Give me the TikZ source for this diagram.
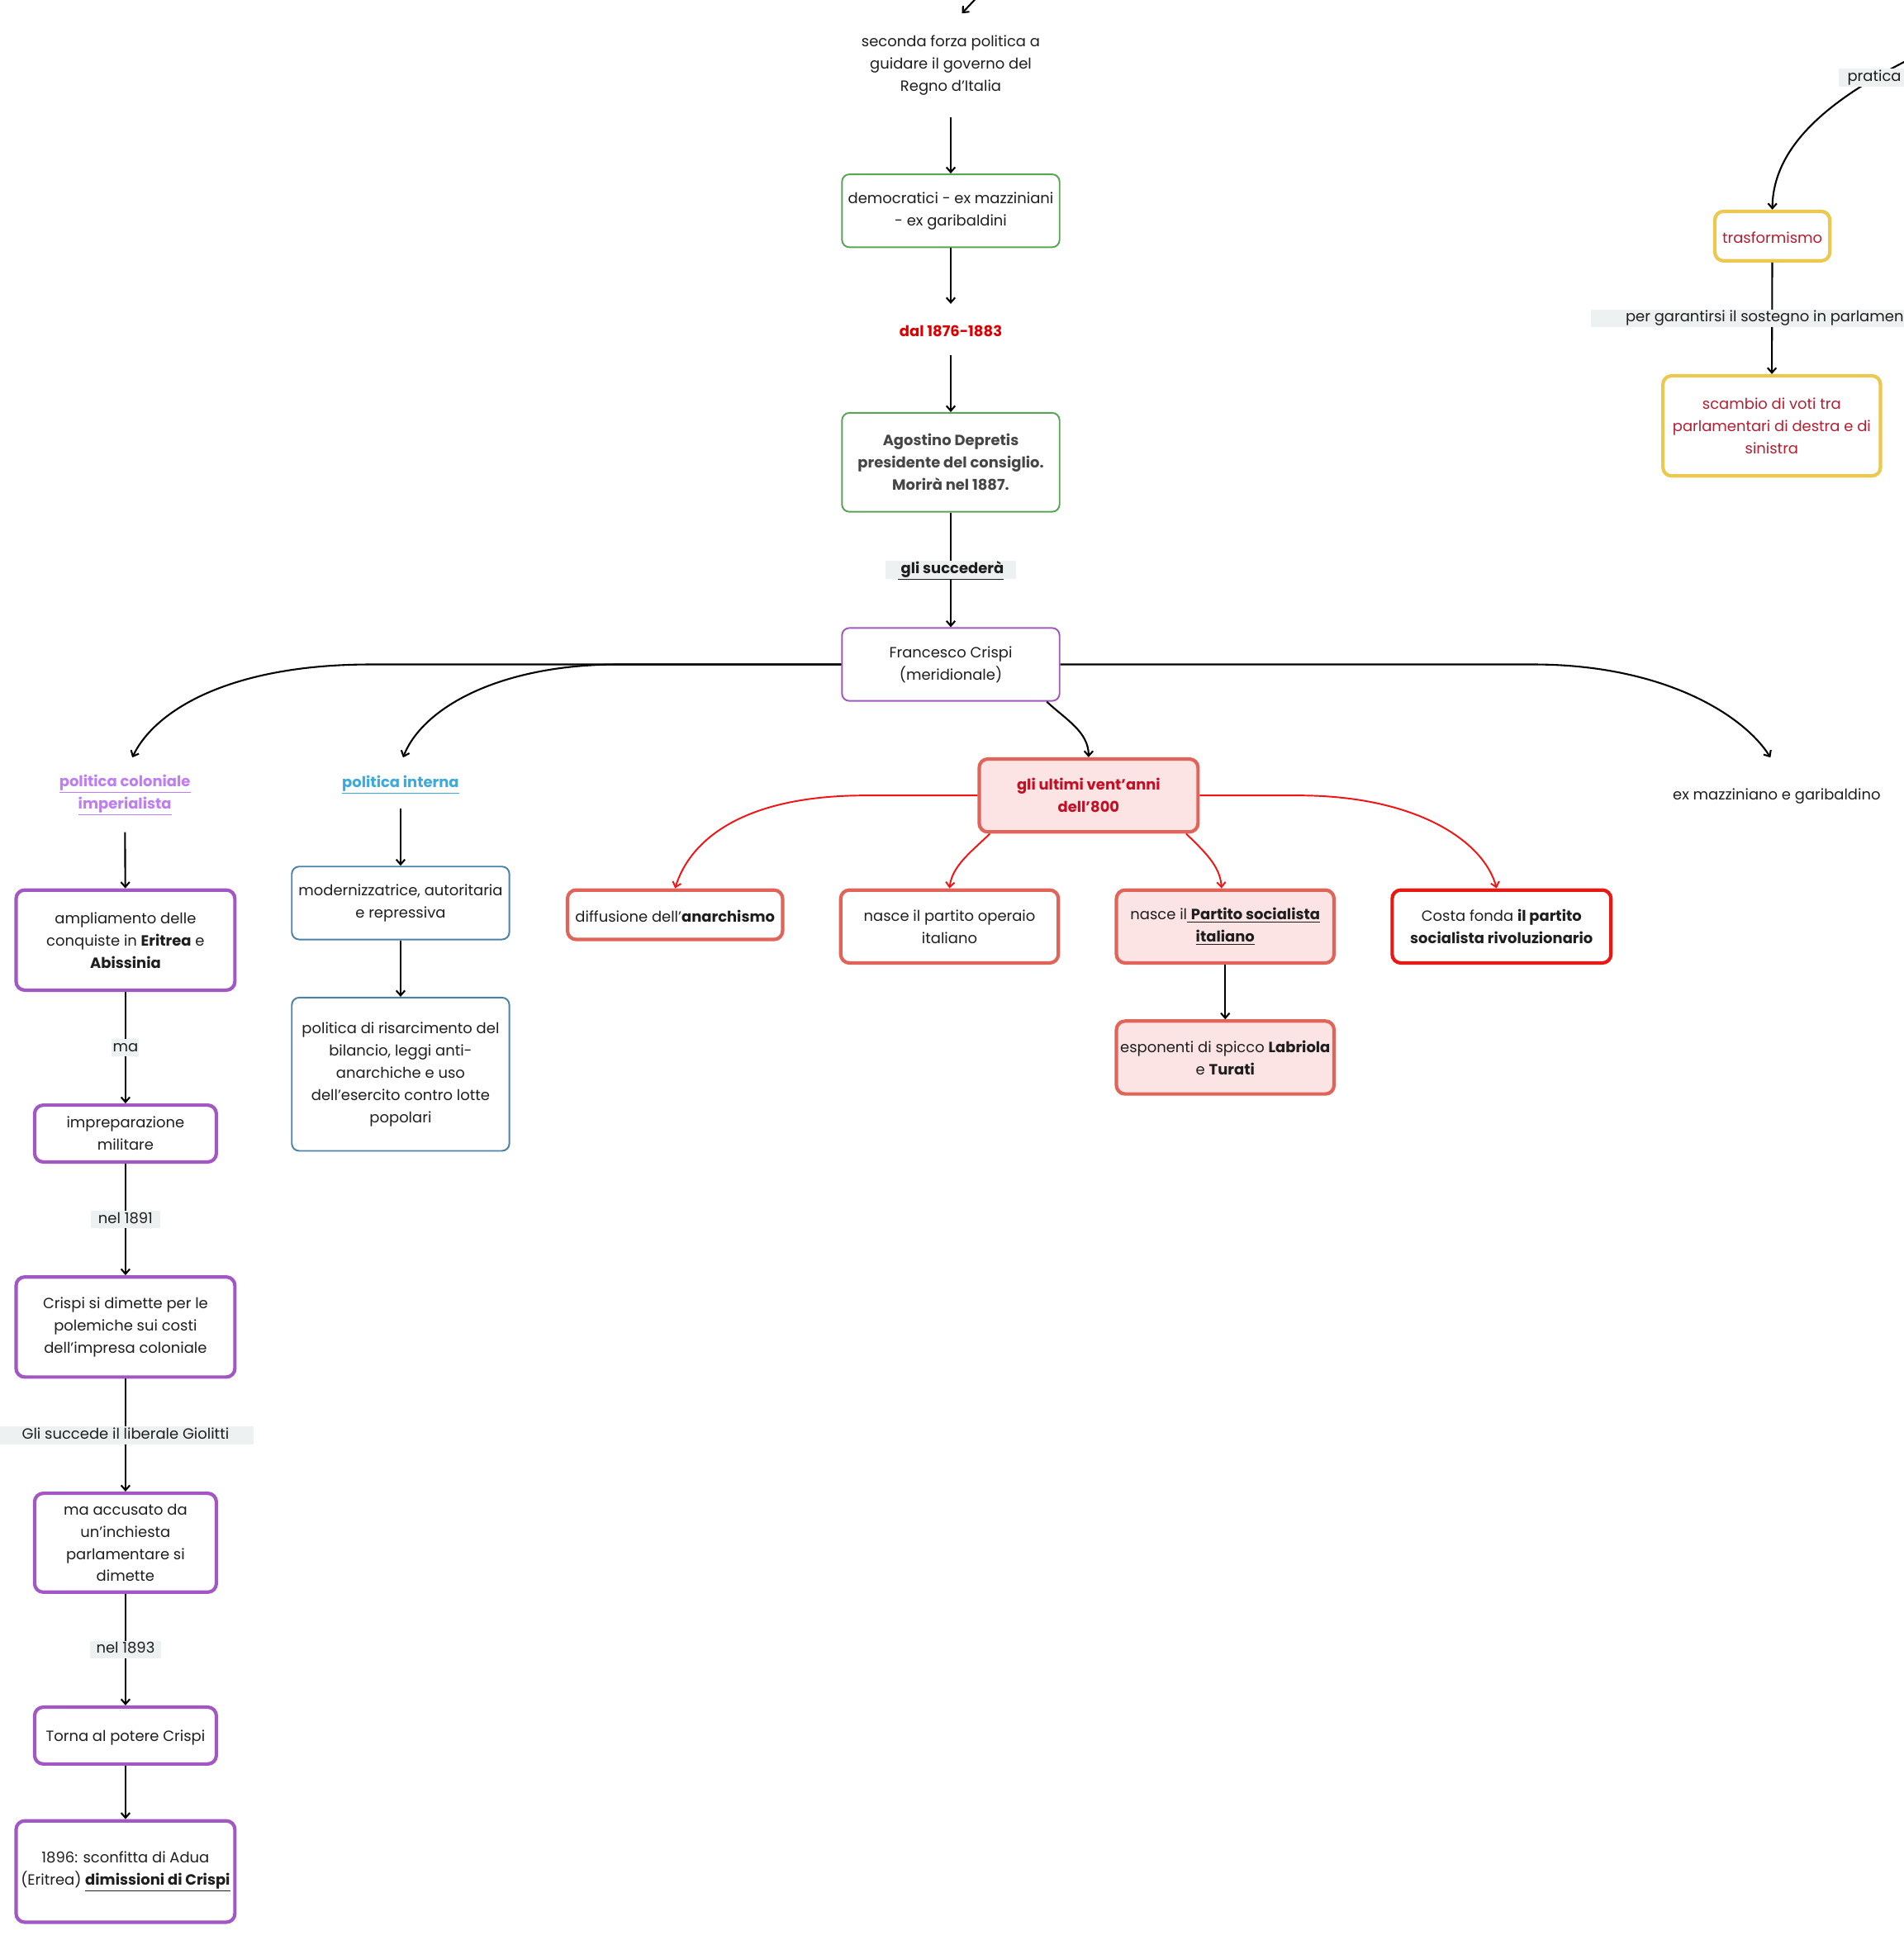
\documentclass[tikz,border=0pt]{standalone}
\usepackage{fontspec}
\setmainfont{Poppins}
\usetikzlibrary{arrows.meta}
\definecolor{grn}{RGB}{90,165,85}
\definecolor{dgray}{RGB}{70,70,70}
\definecolor{pur}{RGB}{160,90,185}
\definecolor{purk}{RGB}{162,88,196}
\definecolor{lav}{RGB}{190,125,240}
\definecolor{sky}{RGB}{60,170,220}
\definecolor{steel}{RGB}{75,130,165}
\definecolor{redarr}{RGB}{240,20,20}
\definecolor{salmon}{RGB}{225,100,90}
\definecolor{pinkfill}{RGB}{253,228,228}
\definecolor{crim}{RGB}{195,15,35}
\definecolor{brred}{RGB}{230,25,20}
\definecolor{dalred}{RGB}{220,0,0}
\definecolor{yel}{RGB}{235,200,80}
\definecolor{wine}{RGB}{180,30,50}
\definecolor{lblbg}{RGB}{238,241,241}
\definecolor{ink}{RGB}{30,30,30}
\begin{document}
\begin{tikzpicture}[x=1pt,y=-1pt,
  txt/.style={font=\fontsize{12}{18}\selectfont, align=center, inner sep=0pt, text=ink,
    execute at begin node={\rule{0pt}{12pt}}},
  btxt/.style={txt, font=\fontsize{12}{18}\selectfont\bfseries},
  thinbox/.style={draw, rounded corners=6pt, line width=1.3pt, fill=white},
  thickbox/.style={draw, rounded corners=7pt, line width=2.8pt, fill=white},
  lbl/.style={txt, execute at begin node={}, fill=lblbg, minimum height=14.5pt, text height=8.5pt, text depth=2.5pt},
  arr/.style={draw=black, line width=1.4pt, -{Straight Barb[length=4pt,width=7pt]}},
  rarr/.style={arr, draw=redarr, line width=1.3pt},
]
\fill[white] (0,0) rectangle (1540,1569.4);
\useasboundingbox (0,0) rectangle (1540,1569.4);

% centre column
\coordinate (topstart) at (791,-3);
\node[txt, minimum height=84pt] (seconda) at (769,53) {seconda forza politica a\\guidare il governo del\\Regno d'Italia};
\node[txt, thinbox, draw=grn, minimum width=176pt, minimum height=59pt] (democ) at (769,170.5) {democratici - ex mazziniani\\- ex garibaldini};
\node[btxt, text=dalred, minimum height=41pt] (dal) at (769,266.5) {dal 1876-1883};
\node[btxt, thinbox, draw=grn, text=dgray, minimum width=176pt, minimum height=80pt] (depr) at (769,374) {Agostino Depretis\\presidente del consiglio.\\Morirà nel 1887.};
\node[txt, thinbox, draw=pur, minimum width=176pt, minimum height=59pt] (crispi) at (769,537.5) {Francesco Crispi\\(meridionale)};

\draw[arr] (topstart) -- ([xshift=9pt]seconda.north);
\draw[arr] (seconda) -- (democ);
\draw[arr] (democ) -- (dal);
\draw[arr] (dal) -- (depr);
\draw[arr] (depr) -- node[lbl, font=\fontsize{12}{18}\selectfont\bfseries, minimum width=105pt] {\underline{\ gli succederà}} (crispi);

% branch heads
\node[btxt, text=lav, minimum height=60pt] (colon) at (101,643) {\underline{politica coloniale}\\\underline{imperialista}};
\node[btxt, text=sky, minimum height=41pt] (intern) at (324,633.5) {\underline{politica interna}};
\node[txt, minimum height=60pt] (exmaz) at (1437,643) {ex mazziniano e garibaldino};
\node[btxt, thickbox, draw=salmon, fill=pinkfill, text=crim, minimum width=177pt, minimum height=59pt] (ult) at (880.5,643.5) {gli ultimi vent'anni\\dell'800};

\draw[arr] (crispi.west) -- (300,537.5) .. controls (185,537.5) and (125,575) .. ([xshift=6pt]colon.north);
\draw[arr] (crispi.west) -- (500,537.5) .. controls (405,537.5) and (342,572) .. ([xshift=2pt]intern.north);
\draw[arr] (crispi.east) -- (1240,537.5) .. controls (1345,537.5) and (1410,578) .. ([xshift=-5pt]exmaz.north);
\draw[arr] ([xshift=-11pt]crispi.south east) .. controls (862,582) and (880.5,592) .. (ult.north);

% left column
\node[txt, thickbox, draw=purk, minimum width=177pt, minimum height=81pt] (ampl) at (101.5,760.5) {ampliamento delle\\conquiste in \textbf{Eritrea} e\\\textbf{Abissinia}};
\node[txt, thickbox, draw=purk, minimum width=147pt, minimum height=46pt] (imprep) at (101.5,917) {impreparazione\\militare};
\node[txt, thickbox, draw=purk, minimum width=177pt, minimum height=81pt] (dimette) at (101.5,1073.5) {Crispi si dimette per le\\polemiche sui costi\\dell'impresa coloniale};
\node[txt, thickbox, draw=purk, minimum width=147pt, minimum height=80pt] (accus) at (101.5,1248) {ma accusato da\\un'inchiesta\\parlamentare si\\dimette};
\node[txt, thickbox, draw=purk, minimum width=147pt, minimum height=46pt] (torna) at (101.5,1404) {Torna al potere Crispi};
\node[txt, thickbox, draw=purk, minimum width=177pt, minimum height=82pt] (adua) at (101.5,1514) {1896: sconfitta di Adua\\(Eritrea) \textbf{\underline{dimissioni di Crispi}}};

\draw[arr] (colon) -- (ampl);
\draw[arr] (ampl) -- node[lbl, minimum width=22pt] {ma} (imprep);
\draw[arr] (imprep) -- node[lbl, minimum width=56pt] {nel 1891} (dimette);
\draw[arr] (dimette) -- node[lbl, minimum width=207pt] {Gli succede il liberale Giolitti} (accus);
\draw[arr] (accus) -- node[lbl, minimum width=57pt] {nel 1893} (torna);
\draw[arr] (torna) -- (adua);

% middle column
\node[txt, thinbox, draw=steel, minimum width=176pt, minimum height=59pt] (modern) at (324,730.5) {modernizzatrice, autoritaria\\e repressiva};
\node[txt, thinbox, draw=steel, minimum width=176pt, minimum height=124pt] (risarc) at (324,869) {politica di risarcimento del\\bilancio, leggi anti-\\anarchiche e uso\\dell'esercito contro lotte\\popolari};
\draw[arr] (intern) -- (modern);
\draw[arr] (modern) -- (risarc);

% red row
\node[txt, thickbox, draw=salmon, minimum width=174pt, minimum height=40pt] (anarch) at (546,740) {diffusione dell'\textbf{anarchismo}};
\node[txt, thickbox, draw=salmon, minimum width=176pt, minimum height=59pt] (operaio) at (768,749.5) {nasce il partito operaio\\italiano};
\node[txt, thickbox, draw=salmon, fill=pinkfill, minimum width=176pt, minimum height=59pt] (psi) at (991,749.5) {nasce il\underline{\ \textbf{Partito socialista}}\\\textbf{\underline{italiano}}};
\node[txt, thickbox, draw=salmon, fill=pinkfill, minimum width=176pt, minimum height=59pt] (espon) at (991,855.5) {esponenti di spicco \textbf{Labriola}\\e \textbf{Turati}};
\node[txt, thickbox, draw=brred, minimum width=177pt, minimum height=59pt] (costa) at (1214.5,749.5) {Costa fonda \textbf{il partito}\\\textbf{socialista rivoluzionario}};

\draw[rarr] (ult.west) -- (700,643.5) .. controls (600,643.5) and (558,680) .. (anarch.north);
\draw[rarr] ([xshift=10pt]ult.south west) .. controls (787,688) and (770,700) .. (operaio.north);
\draw[rarr] ([xshift=-11pt]ult.south east) .. controls (973,688) and (987,700) .. ([xshift=-3pt]psi.north);
\draw[rarr] (ult.east) -- (1050,643.5) .. controls (1145,643.5) and (1200,680) .. ([xshift=-4pt]costa.north);
\draw[arr] (psi) -- (espon);

% top right
\coordinate (pratstart) at (1565,38);
\node[txt, thickbox, draw=yel, text=wine, minimum width=93pt, minimum height=40pt] (trasf) at (1433.5,191) {trasformismo};
\node[txt, thickbox, draw=yel, text=wine, minimum width=176pt, minimum height=81pt] (scambio) at (1433,344.5) {scambio di voti tra\\parlamentari di destra e di\\sinistra};
\draw[arr] (pratstart) .. controls (1485,75) and (1434,115) .. (trasf.north);
\node[lbl, minimum width=58pt] (prat) at (1516,63) {pratica};
\draw[arr] (trasf) -- node[lbl, minimum width=293pt] {per garantirsi il sostegno in parlamento} (scambio);
\end{tikzpicture}
\end{document}
